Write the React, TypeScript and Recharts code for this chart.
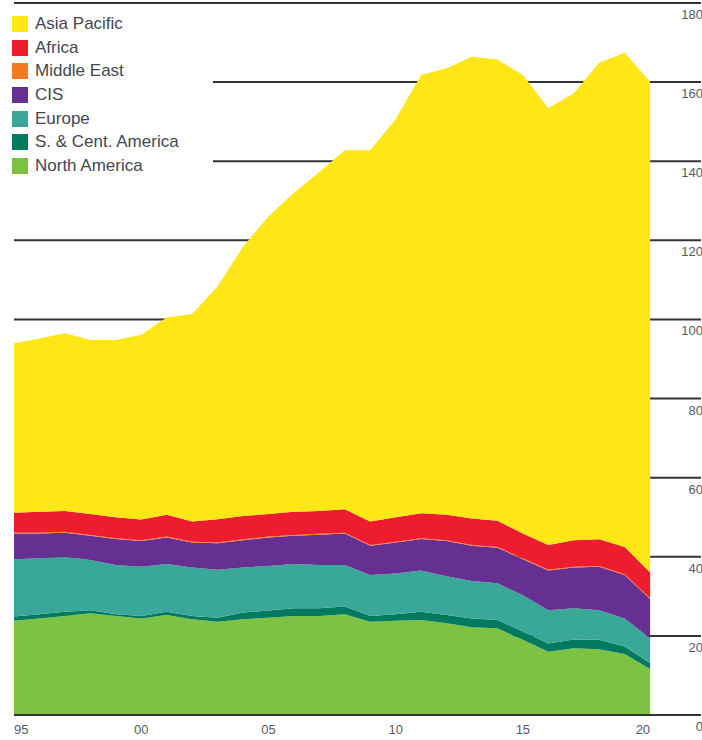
import React from "react"
import { AreaChart, Area, XAxis, YAxis, CartesianGrid } from "recharts"

const years = [
  1995, 1996, 1997, 1998, 1999, 2000, 2001, 2002, 2003, 2004, 2005, 2006, 2007,
  2008, 2009, 2010, 2011, 2012, 2013, 2014, 2015, 2016, 2017, 2018, 2019, 2020,
]

const northAmerica = [23.8, 24.4, 25.0, 25.7, 25.0, 24.4, 25.3, 24.2, 23.6, 24.2, 24.6, 25.0, 25.0, 25.5, 23.6, 23.8, 24.0, 23.2, 22.2, 21.9, 19.0, 16.0, 16.9, 16.6, 15.4, 11.6]
const southCentAmerica = [1.1, 1.1, 1.1, 0.8, 0.5, 0.6, 0.8, 0.8, 1.0, 1.7, 1.8, 2.0, 2.0, 1.9, 1.4, 1.7, 2.1, 2.1, 2.2, 2.1, 2.1, 2.1, 2.2, 2.4, 1.9, 1.5]
const europe = [14.5, 14.1, 13.9, 12.7, 12.4, 12.5, 12.1, 12.3, 12.1, 11.4, 11.3, 11.2, 10.9, 10.5, 10.4, 10.3, 10.4, 9.8, 9.5, 9.3, 9.2, 8.4, 7.9, 7.5, 7.1, 6.3]
const cis = [6.5, 6.3, 6.1, 6.1, 6.6, 6.5, 6.7, 6.3, 6.7, 6.9, 7.2, 7.1, 7.7, 8.0, 7.4, 7.8, 8.0, 8.9, 8.9, 9.0, 9.1, 10.0, 10.3, 11.0, 11.0, 9.9]
const middleEast = [0.2, 0.2, 0.2, 0.2, 0.2, 0.2, 0.2, 0.2, 0.2, 0.2, 0.2, 0.2, 0.2, 0.2, 0.2, 0.2, 0.2, 0.2, 0.2, 0.2, 0.2, 0.2, 0.2, 0.2, 0.2, 0.2]
const africa = [5.0, 5.3, 5.3, 5.3, 5.3, 5.2, 5.5, 5.1, 5.9, 5.9, 5.7, 5.9, 5.8, 5.9, 5.9, 6.2, 6.3, 6.4, 6.7, 6.6, 6.3, 6.3, 6.7, 6.7, 6.9, 6.5]
const asiaPacific = [42.9, 43.8, 44.9, 44.0, 44.8, 46.7, 49.9, 52.5, 58.8, 68.1, 75.2, 80.6, 85.7, 90.8, 93.9, 100.6, 110.8, 112.9, 116.7, 116.6, 115.9, 110.4, 113.0, 120.5, 124.9, 124.1]

const xTicks = [1995, 2000, 2005, 2010, 2015, 2020]
const yTicks = [0, 20, 40, 60, 80, 100, 120, 140, 160, 180]

// bottom of the stack first
const series = [
  { key: "na", name: "North America", color: "#7dc242", values: northAmerica },
  { key: "sca", name: "S. & Cent. America", color: "#007a5e", values: southCentAmerica },
  { key: "eu", name: "Europe", color: "#3aa898", values: europe },
  { key: "cis", name: "CIS", color: "#663092", values: cis },
  { key: "me", name: "Middle East", color: "#f47920", values: middleEast },
  { key: "af", name: "Africa", color: "#ed1c2e", values: africa },
  { key: "ap", name: "Asia Pacific", color: "#ffe617", values: asiaPacific },
]

const data = years.map((year, i) => {
  const row: Record<string, number> = { year }
  series.forEach((s) => (row[s.key] = s.values[i]))
  return row
})

const font = "'Liberation Sans', Arial, sans-serif"

function XTick(props: any) {
  const { x, y, payload } = props
  const v = payload.value as number
  const anchor = v === xTicks[0] ? "start" : v === xTicks[xTicks.length - 1] ? "end" : "middle"
  return (
    <text x={x} y={y} dy={19} textAnchor={anchor} fill="#555a66" fontSize={13} fontFamily={font}>
      {String(v % 100).padStart(2, "0")}
    </text>
  )
}

function YTick(props: any) {
  const { y, payload } = props
  return (
    <text x={703} y={y} dy={16} textAnchor="end" fill="#555a66" fontSize={13} fontFamily={font}>
      {payload.value}
    </text>
  )
}

function LegendBox() {
  return (
    <div
      style={{
        position: "absolute",
        left: 0,
        top: 8,
        background: "#fff",
        width: 213,
        height: 172,
        paddingTop: 4,
        boxSizing: "border-box",
      }}
    >
      {[...series].reverse().map((s) => (
        <div key={s.key} style={{ display: "flex", alignItems: "center", height: 23.7, paddingLeft: 12 }}>
          <span style={{ width: 16, height: 16, background: s.color, display: "inline-block", marginRight: 7 }} />
          <span style={{ fontFamily: font, fontSize: 17, color: "#444752" }}>{s.name}</span>
        </div>
      ))}
    </div>
  )
}

export default function App() {
  return (
    <div style={{ position: "absolute", left: 0, top: 0, width: 702, height: 740, background: "#fff" }}>
      <AreaChart width={702} height={740} data={data} margin={{ top: 3, right: 0, bottom: 0, left: 14 }}>
        <CartesianGrid vertical={false} stroke="#333" strokeWidth={2} />
        <XAxis
          dataKey="year"
          type="number"
          domain={[1995, 2022]}
          ticks={xTicks}
          interval={0}
          height={25}
          tickSize={0}
          tickMargin={0}
          tickLine={false}
          axisLine={{ stroke: "#333", strokeWidth: 2 }}
          tick={<XTick />}
        />
        <YAxis
          orientation="right"
          width={1}
          domain={[0, 180]}
          ticks={yTicks}
          interval={0}
          tickSize={0}
          tickMargin={0}
          tickLine={false}
          axisLine={false}
          tick={<YTick />}
        />
        {series.map((s) => (
          <Area
            key={s.key}
            dataKey={s.key}
            name={s.name}
            stackId="1"
            type="linear"
            stroke="none"
            fill={s.color}
            fillOpacity={1}
            isAnimationActive={false}
          />
        ))}
      </AreaChart>
      <LegendBox />
    </div>
  )
}
